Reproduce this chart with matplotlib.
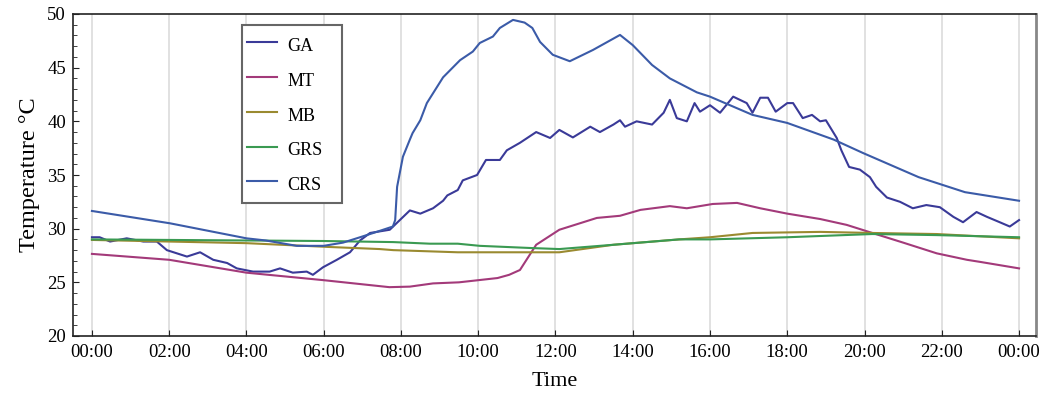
import matplotlib
matplotlib.use("Agg")
import matplotlib.pyplot as plt
from matplotlib.ticker import MultipleLocator
from matplotlib.patches import Rectangle

# ---- data (hours since midnight, temperature °C) ----
crs_h = [0, 2.02, 4.0, 4.5, 5.3, 6.0, 6.5, 6.94, 7.37, 7.79, 7.85, 7.9, 8.05, 8.23, 8.3, 8.5,
         8.67, 9.09, 9.53, 9.86, 10.04, 10.38, 10.56, 10.9, 11.2, 11.4, 11.6, 11.93, 12.37,
         12.97, 13.67, 14.0, 14.5, 14.96, 15.66, 16.0, 17.1, 18.0, 19.2, 19.96, 21.4, 22.6, 24.0]
crs_t = [31.65, 30.5, 29.1, 28.9, 28.4, 28.4, 28.7, 29.2, 29.7, 30.2, 30.8, 33.9, 36.7, 38.3, 38.9, 40.1,
         41.7, 44.1, 45.7, 46.5, 47.3, 47.9, 48.7, 49.45, 49.2, 48.7, 47.4, 46.2, 45.6,
         46.65, 48.05, 47.1, 45.25, 44.0, 42.7, 42.3, 40.6, 39.85, 38.3, 37.05, 34.8, 33.4, 32.6]

ga_h = [0, 0.2, 0.47, 0.9, 1.33, 1.68, 1.94, 2.46, 2.8, 3.14, 3.5, 3.75, 4.17, 4.6, 4.87, 5.2,
        5.56, 5.72, 5.98, 6.34, 6.68, 6.94, 7.2, 7.71, 7.97, 8.23, 8.5, 8.83, 9.09, 9.2, 9.47,
        9.6, 9.97, 10.2, 10.56, 10.74, 11.08, 11.5, 11.86, 12.1, 12.45, 12.9, 13.15, 13.5,
        13.67, 13.8, 14.1, 14.5, 14.8, 14.96, 15.14, 15.4, 15.6, 15.74, 16.0, 16.26, 16.6,
        16.95, 17.1, 17.3, 17.5, 17.7, 18.0, 18.15, 18.4, 18.64, 18.85, 19.0, 19.28, 19.4,
        19.6, 19.88, 20.14, 20.3, 20.58, 20.92, 21.25, 21.6, 21.95, 22.3, 22.55, 22.9, 23.17,
        23.5, 23.76, 24.0]
ga_t = [29.2, 29.2, 28.8, 29.1, 28.8, 28.8, 28.0, 27.4, 27.8, 27.1, 26.8, 26.3, 26.0, 26.0, 26.3, 25.9,
        26.0, 25.7, 26.4, 27.1, 27.8, 28.9, 29.6, 29.9, 30.8, 31.7, 31.4, 31.9, 32.6, 33.1, 33.6,
        34.5, 35.0, 36.4, 36.4, 37.3, 38.0, 39.0, 38.45, 39.2, 38.5, 39.5, 39.0, 39.7,
        40.1, 39.5, 40.0, 39.7, 40.8, 42.0, 40.3, 40.0, 41.7, 40.9, 41.5, 40.8, 42.3,
        41.7, 40.8, 42.2, 42.2, 40.9, 41.7, 41.7, 40.3, 40.6, 40.0, 40.1, 38.45, 37.3,
        35.75, 35.5, 34.8, 33.9, 32.9, 32.5, 31.9, 32.2, 32.0, 31.1, 30.6, 31.55, 31.1,
        30.6, 30.2, 30.8]

mt_h = [0, 2.0, 4.0, 6.0, 7.7, 8.23, 8.83, 9.5, 10.0, 10.5, 10.8, 11.08, 11.5, 12.1, 12.63, 13.07,
        13.67, 14.2, 14.96, 15.4, 16.07, 16.7, 17.3, 18.0, 18.85, 19.54, 20.2, 21.0, 21.87,
        22.65, 23.0, 24.0]
mt_t = [27.65, 27.1, 25.9, 25.2, 24.55, 24.6, 24.9, 25.0, 25.2, 25.4, 25.7, 26.15, 28.5, 29.9, 30.5, 31.0,
        31.2, 31.75, 32.1, 31.9, 32.3, 32.4, 31.9, 31.4, 30.9, 30.35, 29.6, 28.7, 27.7,
        27.1, 26.9, 26.3]

mb_h = [0, 4.0, 6.1, 7.45, 7.8, 9.47, 10.04, 12.1, 13.5, 15.2, 16.0, 17.1, 18.85, 20.2, 21.87, 24.0]
mb_t = [28.95, 28.65, 28.3, 28.1, 28.0, 27.8, 27.8, 27.8, 28.5, 29.0, 29.2, 29.6, 29.7, 29.6, 29.5, 29.1]

grs_h = [0, 4.0, 6.0, 7.8, 8.75, 9.47, 10.04, 11.34, 12.1, 13.5, 15.2, 16.0, 18.0, 20.2, 21.87, 24.0]
grs_t = [29.0, 28.9, 28.85, 28.75, 28.6, 28.6, 28.4, 28.2, 28.1, 28.5, 29.0, 29.0, 29.2, 29.5, 29.4, 29.2]

xtick_hours = list(range(0, 25, 2))
xtick_labels = ["00:00", "02:00", "04:00", "06:00", "08:00", "10:00", "12:00",
                "14:00", "16:00", "18:00", "20:00", "22:00", "00:00"]

series = [
    ("GA", ga_h, ga_t, "#3a3a98"),
    ("MT", mt_h, mt_t, "#a33a7a"),
    ("MB", mb_h, mb_t, "#9a8a30"),
    ("GRS", grs_h, grs_t, "#3a9a52"),
    ("CRS", crs_h, crs_t, "#3b5ba8"),
]

plt.rcParams["font.family"] = ["Liberation Serif", "DejaVu Serif"]

fig = plt.figure(figsize=(10.4, 4.0), dpi=100)
ax = fig.add_axes([0.0702, 0.16, 0.926, 0.805])

for name, h, t, c in series:
    ax.plot(h, t, color=c, lw=1.5, label=name)

ax.set_xlim(-0.49, 24.44)
ax.set_ylim(20, 50)
ax.set_xticks(xtick_hours)
ax.set_xticklabels(xtick_labels)
ax.yaxis.set_major_locator(MultipleLocator(5))
ax.yaxis.set_minor_locator(MultipleLocator(1))
ax.tick_params(axis="both", which="major", direction="in", length=4, labelsize=13.5, pad=6, color="#222222")
ax.tick_params(axis="y", which="major", pad=5)
ax.tick_params(axis="y", which="minor", direction="in", length=3, color="#222222")
ax.grid(axis="x", color="#dcdcdc", lw=1.2)
ax.set_axisbelow(True)

for s in ("left", "bottom", "top"):
    ax.spines[s].set_color("#222222")
    ax.spines[s].set_linewidth(1.2)
ax.spines["right"].set_color("#888888")
ax.spines["right"].set_linewidth(2)

ax.set_xlabel("Time", fontsize=16, labelpad=8)
ax.set_ylabel("Temperature °C", fontsize=17.5, labelpad=5)

# legend box (drawn separately for asymmetric padding)
box = Rectangle((0.1755, 0.413), 0.1038, 0.5528, transform=ax.transAxes,
                facecolor="white", edgecolor="#666666", lw=1.5, zorder=5)
ax.add_patch(box)

fs_px = 13 * 100 / 72.0
leg = ax.legend(loc="upper left", bbox_to_anchor=(0.1755, 0.957), borderaxespad=0,
                fontsize=13, handlelength=30 / fs_px, handleheight=30 / fs_px,
                labelspacing=11 / fs_px, frameon=False, borderpad=5 / fs_px,
                handletextpad=10 / fs_px)
leg.set_zorder(6)

fig.savefig("out.png", dpi=100)
